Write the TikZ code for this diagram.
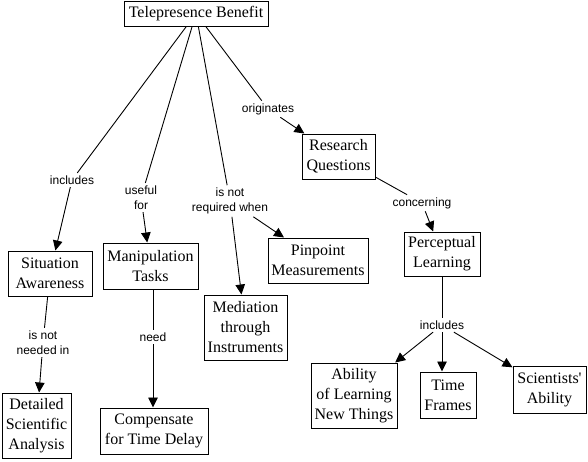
\documentclass[tikz,border=0pt]{standalone}
\usepackage{fontspec}
\setmainfont{Liberation Serif}
\newfontfamily\labfont{Liberation Sans}
\usetikzlibrary{arrows.meta}
\begin{document}
\begin{tikzpicture}[x=1pt,y=-1pt,
  box/.style={draw,line width=1pt,align=center,inner xsep=3pt,inner ysep=3pt,
    font=\fontsize{16}{20}\selectfont},
  lab/.style={align=center,inner sep=2.5pt,font=\labfont\fontsize{12}{15}\selectfont},
  conn/.style={line width=0.9pt},
  arr/.style={line width=0.9pt,-{Triangle[length=10pt,width=9.5pt]}}]
\useasboundingbox (0,0) rectangle (588,461);
% concepts
\node[box,minimum width=144pt,minimum height=25pt] (tb) at (196,13.5) {Telepresence Benefit};
\node[box,minimum width=73pt,minimum height=45pt] (rq) at (338.5,156.5) {Research\\Questions};
\node[box,minimum width=84pt,minimum height=45pt] (sa) at (50,273.5) {Situation\\Awareness};
\node[box,minimum width=95pt,minimum height=46pt] (mt) at (150.5,266) {Manipulation\\Tasks};
\node[box,minimum width=83pt,minimum height=65pt] (mi) at (245.5,327.5) {Mediation\\through\\Instruments};
\node[box,minimum width=100pt,minimum height=45pt] (pm) at (318,260.5) {Pinpoint\\Measurements};
\node[box,minimum width=69pt,minimum height=65pt] (dsa) at (36.5,425.5) {Detailed\\Scientific\\Analysis};
\node[box,minimum width=108pt,minimum height=46pt] (ctd) at (154,431) {Compensate\\for Time Delay};
\node[box,minimum width=76pt,minimum height=44pt] (pl) at (442,254) {Perceptual\\Learning};
\node[box,minimum width=86pt,minimum height=65pt] (al) at (354,395.5) {Ability\\of Learning\\New Things};
\node[box,minimum width=56pt,minimum height=46pt] (tf) at (448,395) {Time\\Frames};
\node[box,minimum width=73pt,minimum height=47pt] (sc) at (549.5,389.5) {Scientists\textquotesingle\\Ability};
% linking phrases
\node[lab] (l1) at (72,180) {includes};
\node[lab] (l2) at (141,197.5) {useful\\for};
\node[lab] (l3) at (230,201) {is not\\required when};
\node[lab] (l4) at (268,109) {originates};
\node[lab] (l5) at (422,203) {concerning};
\node[lab] (l6) at (43,342.5) {is not\\needed in};
\node[lab] (l7) at (153,337) {need};
\node[lab] (l8) at (442,325) {includes};
% connectors
\draw[conn] (tb) -- (l1);
\draw[arr] (l1) -- (sa);
\draw[conn] (tb) -- (l2);
\draw[arr] (l2) -- (mt);
\draw[conn] (tb) -- (l3);
\draw[arr] (l3) -- (mi);
\draw[arr] (l3) -- (pm);
\draw[conn] (tb) -- (l4);
\draw[arr] (l4) -- (rq);
\draw[conn] (rq) -- (l5);
\draw[arr] (l5) -- (pl);
\draw[conn] (sa) -- (l6);
\draw[arr] (l6) -- (dsa);
\draw[conn] (mt.south -| l7) -- (l7);
\draw[arr] (l7) -- (l7 |- ctd.north);
\draw[conn] (pl.south -| l8) -- (l8);
\draw[arr] (l8) -- (al);
\draw[arr] (l8) -- (l8 |- tf.north);
\draw[arr] (l8) -- (sc);
\end{tikzpicture}
\end{document}
